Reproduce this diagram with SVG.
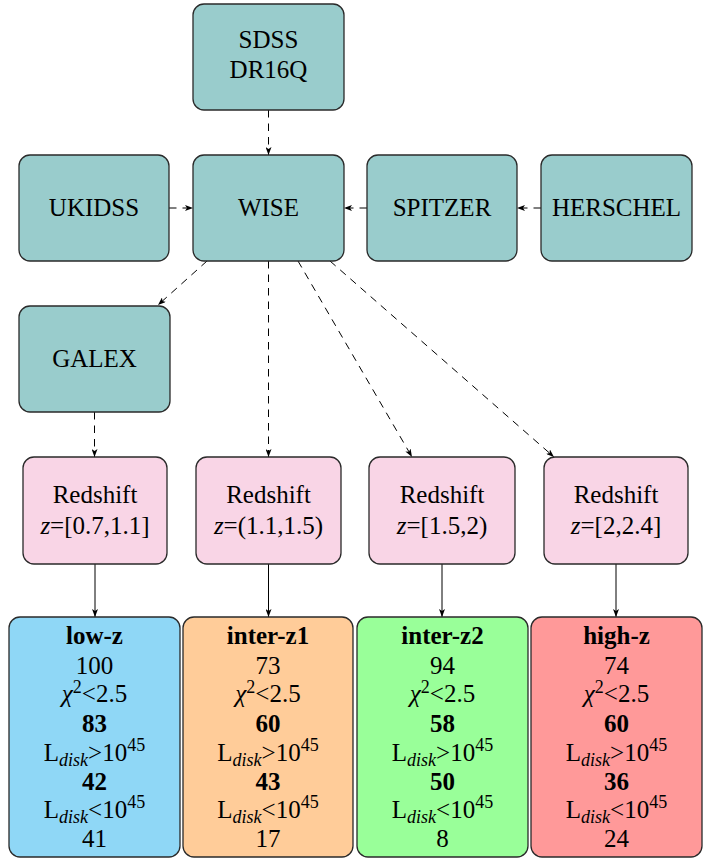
<svg xmlns="http://www.w3.org/2000/svg" width="713" height="858" viewBox="0 0 713 858">
<style>
.box{stroke:#2a2a2a;stroke-width:1.3}
.teal{fill:#99CCCC}
.pink{fill:#F9D5E6}
.blue{fill:#8FD7F6}
.orange{fill:#FFCC99}
.green{fill:#99FF99}
.red{fill:#FF9999}
svg g text, svg g text tspan{font-family:'Liberation Serif','Times New Roman',serif !important}
.dash{stroke:#000;stroke-width:1;fill:none;stroke-dasharray:7.5,6;marker-end:url(#ah)}
.solid{stroke:#000;stroke-width:1;fill:none;marker-end:url(#ah)}
</style>
<defs>
<marker id="ah" viewBox="0 0 8 6" refX="8" refY="3" markerWidth="8" markerHeight="6" markerUnits="userSpaceOnUse" orient="auto">
<path d="M0,0 L8,3 L0,6 L2,3 z" fill="#000" stroke="none"/>
</marker>
</defs>

<g id="connectors">
<path class="dash" d="M268.5,110 V155"/>
<path class="dash" d="M169,208 H193"/>
<path class="dash" d="M367,208 H344"/>
<path class="dash" d="M541,208 H517"/>
<path class="dash" d="M207,261 L158,305"/>
<path class="dash" d="M268.5,261 V457"/>
<path class="dash" d="M298,261 L412,457"/>
<path class="dash" d="M330,261 L554,457"/>
<path class="dash" d="M94.5,412 V457"/>
<path class="solid" d="M95,564 V617"/>
<path class="solid" d="M268.5,564 V617"/>
<path class="solid" d="M442,564 V617"/>
<path class="solid" d="M616,564 V617"/>
</g>

<g id="sdss">
<rect class="box teal" x="193" y="4" width="151" height="106" rx="11"/>
<text x="268.5" y="48" font-size="25" text-anchor="middle" style="font-family:'Liberation Serif',serif !important">SDSS</text>
<text x="268.5" y="78" font-size="25" text-anchor="middle" style="font-family:'Liberation Serif',serif !important">DR16Q</text>
</g>
<g id="ukidss">
<rect class="box teal" x="19" y="155" width="150" height="106" rx="11"/>
<text x="94" y="216" font-size="25" text-anchor="middle" style="font-family:'Liberation Serif',serif !important">UKIDSS</text>
</g>
<g id="wise">
<rect class="box teal" x="193" y="155" width="151" height="106" rx="11"/>
<text x="268.5" y="216" font-size="25" text-anchor="middle" style="font-family:'Liberation Serif',serif !important">WISE</text>
</g>
<g id="spitzer">
<rect class="box teal" x="367" y="155" width="150" height="106" rx="11"/>
<text x="442" y="216" font-size="25" text-anchor="middle" style="font-family:'Liberation Serif',serif !important">SPITZER</text>
</g>
<g id="herschel">
<rect class="box teal" x="541" y="155" width="151" height="106" rx="11"/>
<text x="616.5" y="216" font-size="25" text-anchor="middle" style="font-family:'Liberation Serif',serif !important">HERSCHEL</text>
</g>
<g id="galex">
<rect class="box teal" x="19" y="306" width="151" height="106" rx="11"/>
<text x="94.5" y="367" font-size="25" text-anchor="middle" style="font-family:'Liberation Serif',serif !important">GALEX</text>
</g>

<g id="z1">
<rect class="box pink" x="23" y="457" width="144" height="107" rx="11"/>
<text x="95" y="503" font-size="25" text-anchor="middle" style="font-family:'Liberation Serif',serif !important">Redshift</text>
<text x="95" y="534" font-size="25" text-anchor="middle" style="font-family:'Liberation Serif',serif !important"><tspan font-style="italic">z</tspan>=[0.7,1.1]</text>
</g>
<g id="z2">
<rect class="box pink" x="196" y="457" width="145" height="107" rx="11"/>
<text x="268.5" y="503" font-size="25" text-anchor="middle" style="font-family:'Liberation Serif',serif !important">Redshift</text>
<text x="268.5" y="534" font-size="25" text-anchor="middle" style="font-family:'Liberation Serif',serif !important"><tspan font-style="italic">z</tspan>=(1.1,1.5)</text>
</g>
<g id="z3">
<rect class="box pink" x="369" y="457" width="146" height="107" rx="11"/>
<text x="442" y="503" font-size="25" text-anchor="middle" style="font-family:'Liberation Serif',serif !important">Redshift</text>
<text x="442" y="534" font-size="25" text-anchor="middle" style="font-family:'Liberation Serif',serif !important"><tspan font-style="italic">z</tspan>=[1.5,2)</text>
</g>
<g id="z4">
<rect class="box pink" x="544" y="457" width="144" height="107" rx="11"/>
<text x="616" y="503" font-size="25" text-anchor="middle" style="font-family:'Liberation Serif',serif !important">Redshift</text>
<text x="616" y="534" font-size="25" text-anchor="middle" style="font-family:'Liberation Serif',serif !important"><tspan font-style="italic">z</tspan>=[2,2.4]</text>
</g>

<g id="lowz">
<rect class="box blue" x="9" y="617" width="171" height="240" rx="11"/>
<text x="94.5" y="644" font-size="25" text-anchor="middle" font-weight="bold" style="font-family:'Liberation Serif',serif !important">low-z</text>
<text x="94.5" y="674" font-size="25" text-anchor="middle" style="font-family:'Liberation Serif',serif !important">100</text>
<text x="94.5" y="702" font-size="25" text-anchor="middle" style="font-family:'Liberation Serif',serif !important"><tspan font-style="italic">χ</tspan><tspan font-size="18" dy="-9">2</tspan><tspan dy="9">&lt;2.5</tspan></text>
<text x="94.5" y="732" font-size="25" text-anchor="middle" font-weight="bold" style="font-family:'Liberation Serif',serif !important">83</text>
<text x="94.5" y="761" font-size="25" text-anchor="middle" style="font-family:'Liberation Serif',serif !important">L<tspan font-style="italic" font-size="18" dy="5">disk</tspan><tspan dy="-5">&gt;10</tspan><tspan font-size="18" dy="-10">45</tspan></text>
<text x="94.5" y="790" font-size="25" text-anchor="middle" font-weight="bold" style="font-family:'Liberation Serif',serif !important">42</text>
<text x="94.5" y="818" font-size="25" text-anchor="middle" style="font-family:'Liberation Serif',serif !important">L<tspan font-style="italic" font-size="18" dy="5">disk</tspan><tspan dy="-5">&lt;10</tspan><tspan font-size="18" dy="-10">45</tspan></text>
<text x="94.5" y="847" font-size="25" text-anchor="middle" style="font-family:'Liberation Serif',serif !important">41</text>
</g>
<g id="interz1">
<rect class="box orange" x="183" y="617" width="170" height="240" rx="11"/>
<text x="268" y="644" font-size="25" text-anchor="middle" font-weight="bold" style="font-family:'Liberation Serif',serif !important">inter-z1</text>
<text x="268" y="674" font-size="25" text-anchor="middle" style="font-family:'Liberation Serif',serif !important">73</text>
<text x="268" y="702" font-size="25" text-anchor="middle" style="font-family:'Liberation Serif',serif !important"><tspan font-style="italic">χ</tspan><tspan font-size="18" dy="-9">2</tspan><tspan dy="9">&lt;2.5</tspan></text>
<text x="268" y="732" font-size="25" text-anchor="middle" font-weight="bold" style="font-family:'Liberation Serif',serif !important">60</text>
<text x="268" y="761" font-size="25" text-anchor="middle" style="font-family:'Liberation Serif',serif !important">L<tspan font-style="italic" font-size="18" dy="5">disk</tspan><tspan dy="-5">&gt;10</tspan><tspan font-size="18" dy="-10">45</tspan></text>
<text x="268" y="790" font-size="25" text-anchor="middle" font-weight="bold" style="font-family:'Liberation Serif',serif !important">43</text>
<text x="268" y="818" font-size="25" text-anchor="middle" style="font-family:'Liberation Serif',serif !important">L<tspan font-style="italic" font-size="18" dy="5">disk</tspan><tspan dy="-5">&lt;10</tspan><tspan font-size="18" dy="-10">45</tspan></text>
<text x="268" y="847" font-size="25" text-anchor="middle" style="font-family:'Liberation Serif',serif !important">17</text>
</g>
<g id="interz2">
<rect class="box green" x="357" y="617" width="171" height="240" rx="11"/>
<text x="442.5" y="644" font-size="25" text-anchor="middle" font-weight="bold" style="font-family:'Liberation Serif',serif !important">inter-z2</text>
<text x="442.5" y="674" font-size="25" text-anchor="middle" style="font-family:'Liberation Serif',serif !important">94</text>
<text x="442.5" y="702" font-size="25" text-anchor="middle" style="font-family:'Liberation Serif',serif !important"><tspan font-style="italic">χ</tspan><tspan font-size="18" dy="-9">2</tspan><tspan dy="9">&lt;2.5</tspan></text>
<text x="442.5" y="732" font-size="25" text-anchor="middle" font-weight="bold" style="font-family:'Liberation Serif',serif !important">58</text>
<text x="442.5" y="761" font-size="25" text-anchor="middle" style="font-family:'Liberation Serif',serif !important">L<tspan font-style="italic" font-size="18" dy="5">disk</tspan><tspan dy="-5">&gt;10</tspan><tspan font-size="18" dy="-10">45</tspan></text>
<text x="442.5" y="790" font-size="25" text-anchor="middle" font-weight="bold" style="font-family:'Liberation Serif',serif !important">50</text>
<text x="442.5" y="818" font-size="25" text-anchor="middle" style="font-family:'Liberation Serif',serif !important">L<tspan font-style="italic" font-size="18" dy="5">disk</tspan><tspan dy="-5">&lt;10</tspan><tspan font-size="18" dy="-10">45</tspan></text>
<text x="442.5" y="847" font-size="25" text-anchor="middle" style="font-family:'Liberation Serif',serif !important">8</text>
</g>
<g id="highz">
<rect class="box red" x="531" y="617" width="171" height="240" rx="11"/>
<text x="616.5" y="644" font-size="25" text-anchor="middle" font-weight="bold" style="font-family:'Liberation Serif',serif !important">high-z</text>
<text x="616.5" y="674" font-size="25" text-anchor="middle" style="font-family:'Liberation Serif',serif !important">74</text>
<text x="616.5" y="702" font-size="25" text-anchor="middle" style="font-family:'Liberation Serif',serif !important"><tspan font-style="italic">χ</tspan><tspan font-size="18" dy="-9">2</tspan><tspan dy="9">&lt;2.5</tspan></text>
<text x="616.5" y="732" font-size="25" text-anchor="middle" font-weight="bold" style="font-family:'Liberation Serif',serif !important">60</text>
<text x="616.5" y="761" font-size="25" text-anchor="middle" style="font-family:'Liberation Serif',serif !important">L<tspan font-style="italic" font-size="18" dy="5">disk</tspan><tspan dy="-5">&gt;10</tspan><tspan font-size="18" dy="-10">45</tspan></text>
<text x="616.5" y="790" font-size="25" text-anchor="middle" font-weight="bold" style="font-family:'Liberation Serif',serif !important">36</text>
<text x="616.5" y="818" font-size="25" text-anchor="middle" style="font-family:'Liberation Serif',serif !important">L<tspan font-style="italic" font-size="18" dy="5">disk</tspan><tspan dy="-5">&lt;10</tspan><tspan font-size="18" dy="-10">45</tspan></text>
<text x="616.5" y="847" font-size="25" text-anchor="middle" style="font-family:'Liberation Serif',serif !important">24</text>
</g>
</svg>
